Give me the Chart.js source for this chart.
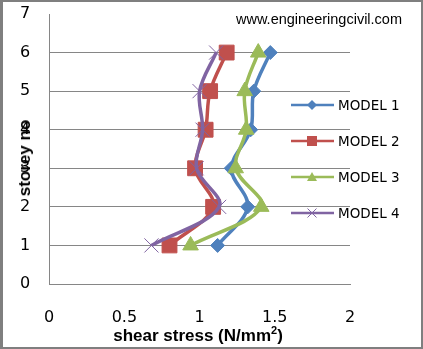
<!DOCTYPE html>
<html>
<head>
<meta charset="utf-8">
<script src="https://cdn.jsdelivr.net/npm/chart.js@4/dist/chart.umd.min.js"></script>
<style>
  body { margin: 0; background: #fff; }
  #wrap { position: relative; width: 423px; height: 349px; overflow: hidden; background: #fff; }
  #frame { position: absolute; left: 0; top: 0; width: 423px; height: 349px; box-sizing: border-box;
           border: 2px solid #7f7f7f; border-left-width: 3px; pointer-events: none; }
  canvas { position: absolute; left: 0; top: 0; }
  .lab { position: absolute; white-space: nowrap; color: #000; }
  #watermark { left: 236px; top: 11px; font: 14.5px "Liberation Sans", Arial, sans-serif; }
  #xtitle { left: 198px; top: 335px; transform: translate(-50%, -50%); font: bold 17px "Liberation Sans", Arial, sans-serif; }
  #ytitle { left: 25px; top: 158px; transform: translate(-50%, -50%) rotate(-90deg); font: bold 17px "Liberation Sans", Arial, sans-serif; }
  .leg { position: absolute; left: 290px; height: 20px; display: flex; align-items: center; }
  .leg span { font: 13.5px "DejaVu Sans", sans-serif; margin-left: 3px; }
</style>
</head>
<body>
<div id="wrap">
  <canvas id="chart" width="423" height="349"></canvas>
  <div class="lab" id="watermark">www.engineeringcivil.com</div>
  <div class="lab" id="xtitle">shear stress (N/mm<sup style="font-size:11px">2</sup>)</div>
  <div class="lab" id="ytitle">storey no</div>
  <div id="legend"></div>
  <div id="frame"></div>
</div>
<script>
// data
const storeys = [1, 2, 3, 4, 5, 6];
const model1 = [1.12, 1.32, 1.21, 1.34, 1.36, 1.47];
const model2 = [0.80, 1.09, 0.97, 1.04, 1.07, 1.18];
const model3 = [0.94, 1.41, 1.24, 1.31, 1.30, 1.39];
const model4 = [0.68, 1.13, 0.98, 1.02, 1.00, 1.11];
const seriesNames = ["MODEL 1", "MODEL 2", "MODEL 3", "MODEL 4"];
const xTicks = [0, 0.5, 1, 1.5, 2];
const yTicks = [0, 1, 2, 3, 4, 5, 6, 7];

const colors = ["#4F81BD", "#C0504D", "#9BBB59", "#8064A2"];
const markers = [
    {style: "rectRot", radius: 7},
    {style: "rect", radius: 10.5},
    {style: "triangle", radius: 9},
    {style: "crossRot", radius: 10}
];

const toPoints = values => values.map((v, i) => ({x: v, y: storeys[i]}));

const datasets = [model1, model2, model3, model4].map((values, i) => ({
    label: seriesNames[i],
    data: toPoints(values),
    showLine: true,
    borderColor: colors[i],
    backgroundColor: colors[i],
    borderWidth: 3.5,
    tension: 0.35,
    pointStyle: markers[i].style,
    pointRadius: markers[i].radius,
    pointBorderWidth: 1,
    pointBorderColor: colors[i],
    pointBackgroundColor: colors[i],
    order: 4 - i
}));

new Chart(document.getElementById("chart").getContext("2d"), {
    type: "scatter",
    data: {datasets},
    options: {
        responsive: false,
        animation: false,
        layout: {padding: {left: 1, top: 14, right: 73, bottom: 0}},
        plugins: {legend: {display: false}, tooltip: {enabled: false}},
        scales: {
            x: {
                type: "linear",
                min: 0,
                max: 2,
                afterBuildTicks: axis => { axis.ticks = xTicks.map(v => ({value: v})); },
                afterFit: axis => { axis.height = 65; },
                grid: {display: false, drawTicks: false},
                border: {display: true, color: "#868686", width: 1},
                ticks: {padding: 24, color: "#000", font: {family: "DejaVu Sans", size: 16},
                        callback: v => String(v)}
            },
            y: {
                type: "linear",
                min: 0,
                max: 7,
                afterBuildTicks: axis => { axis.ticks = yTicks.map(v => ({value: v})); },
                // tick padding would otherwise also be added above and below the axis
                afterFit: axis => { axis.paddingTop = 0; axis.paddingBottom = 0; },
                grid: {
                    drawTicks: false,
                    color: ctx => ctx.tick && ctx.tick.value === 7 ? "rgba(0,0,0,0)" : "#868686",
                    lineWidth: 1
                },
                border: {display: true, color: "#868686", width: 1},
                ticks: {padding: 19, color: "#000", font: {family: "DejaVu Sans", size: 16},
                        callback: v => String(v)}
            }
        }
    }
});

// legend: line with marker, like the original
const legendRows = [105, 141, 177, 213];
const markerSvg = [
    c => `<polygon points="22,5 27,10 22,15 17,10" fill="${c}"/>`,
    c => `<rect x="17" y="5" width="10" height="10" fill="${c}"/>`,
    c => `<polygon points="22,5 27,14 17,14" fill="${c}"/>`,
    c => `<path d="M17.5,5.5 L26.5,14.5 M26.5,5.5 L17.5,14.5" stroke="${c}" stroke-width="1"/>`
];
const legend = document.getElementById("legend");
seriesNames.forEach((name, i) => {
    const row = document.createElement("div");
    row.className = "leg";
    row.style.top = (legendRows[i] - 10) + "px";
    row.innerHTML = `<svg width="45" height="20"><line x1="1" y1="10" x2="44" y2="10" stroke="${colors[i]}" stroke-width="2.5"/>${markerSvg[i](colors[i])}</svg><span>${name}</span>`;
    legend.appendChild(row);
});
</script>
</body>
</html>
